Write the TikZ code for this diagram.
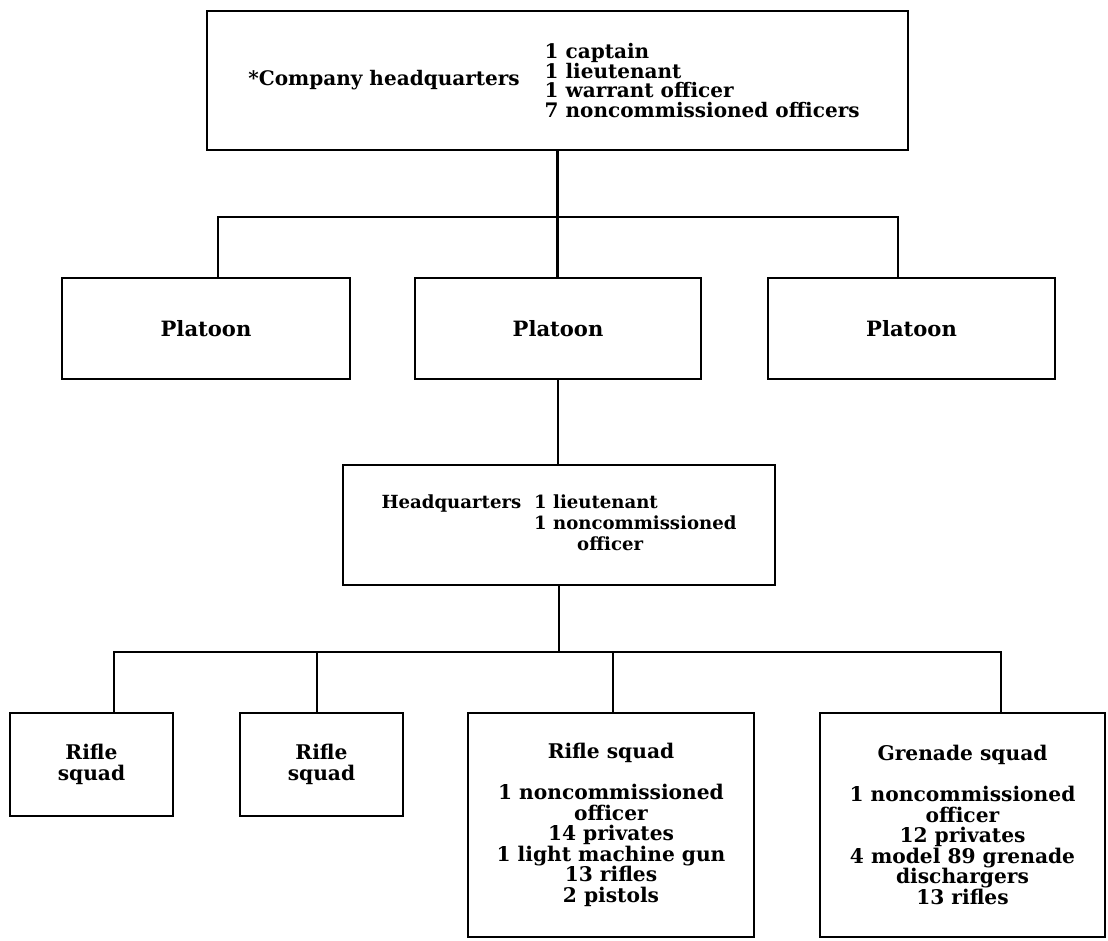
\documentclass[tikz,border=0pt]{standalone}
\usepackage{fontspec}
\setmainfont{DejaVu Serif}
\newcommand\tightlines{\lineskiplimit-10pt\relax}

\begin{document}
\begin{tikzpicture}[x=0.02cm,y=-0.02cm,
  unit/.style 2 args={draw,line width=1.6pt,rectangle,inner sep=0pt,align=center,
    minimum width=#1*0.02cm,minimum height=#2*0.02cm,
    font=\bfseries\fontsize{11.5}{11.7}\selectfont\tightlines},
  link/.style={line width=1.3pt}]
\useasboundingbox (0,0) rectangle (1108,940);
\node[unit={701}{139},font=\bfseries\fontsize{11.4}{11.3}\selectfont] (C) at (557.5,80.5) {*Company headquarters\hspace{0.5cm}\parbox[c]{6.44cm}{\raggedright\tightlines 1 captain\\1 lieutenant\\1 warrant officer\\7 noncommissioned officers}};
\node[unit={288}{101},font=\bfseries\fontsize{12}{12}\selectfont] (P1) at (206,328.5) {Platoon};
\node[unit={286}{101},font=\bfseries\fontsize{12}{12}\selectfont] (P2) at (558,328.5) {Platoon};
\node[unit={287}{101},font=\bfseries\fontsize{12}{12}\selectfont] (P3) at (911.5,328.5) {Platoon};
\node[unit={432}{120}] (H) at (559,525) {{\fontsize{10.3}{11.9}\selectfont\begin{tabular}{@{}l@{\hspace{0.26cm}}l@{}}Headquarters & 1 lieutenant\\ & 1 noncommissioned\\ & \hspace{0.86cm}officer\end{tabular}}};
\node[unit={163}{103}] (S1) at (91.5,764.5) {Rifle\\squad};
\node[unit={163}{103}] (S2) at (321.5,764.5) {Rifle\\squad};
\node[unit={286}{224}] (S3) at (611,825) {Rifle squad\\[11.7pt]1 noncommissioned\\officer\\14 privates\\1 light machine gun\\13 rifles\\2 pistols};
\node[unit={285}{224}] (S4) at (962.5,825) {Grenade squad\\[11.7pt]1 noncommissioned\\officer\\12 privates\\4 model 89 grenade\\dischargers\\13 rifles};
\coordinate (a) at (218,217);
\coordinate (b) at (898,217);
\coordinate (c) at (114,652);
\coordinate (d) at (1001,652);
\coordinate (e) at (317,652);
\coordinate (f) at (613,652);
\draw[link] (C.south) -- (C.south |- P2.north);
\draw[link] (a |- P1.north) -- (a) -- (b) -- (b |- P3.north);
\draw[link] (P2.south) -- (P2.south |- H.north);
\draw[link] (H.south) -- (H.south |- c);
\draw[link] (c |- S1.north) -- (c) -- (d) -- (d |- S4.north);
\draw[link] (e) -- (e |- S2.north);
\draw[link] (f) -- (f |- S3.north);
\end{tikzpicture}
\end{document}
